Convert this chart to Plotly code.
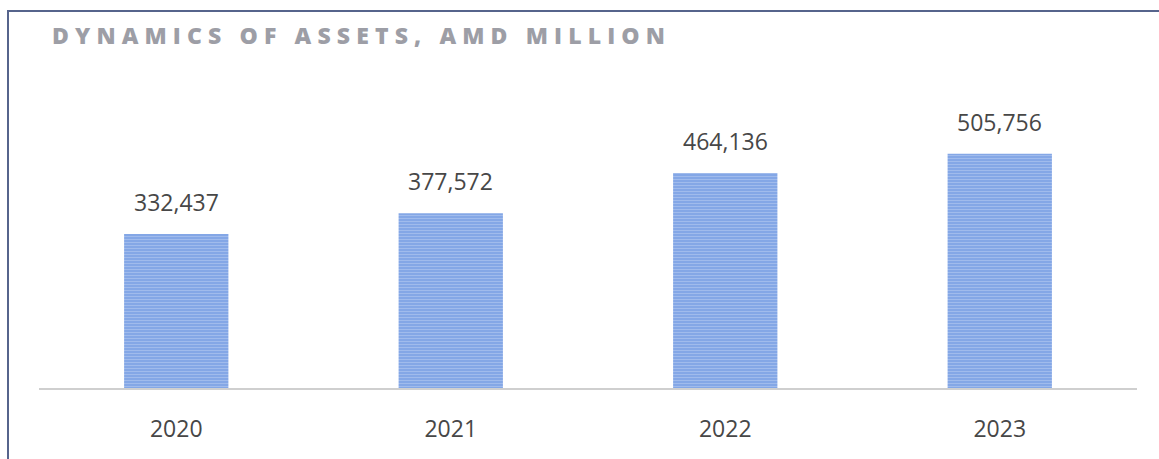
import plotly.graph_objects as go

# Total assets by year, AMD million
years = ["2020", "2021", "2022", "2023"]
assets = [332437, 377572, 464136, 505756]
title_text = "DYNAMICS OF ASSETS, AMD MILLION"

W, H = 1159, 459
ML, MR, MT, MB = 39, 22, 100, 71
plot_w = W - ML - MR
plot_h = H - MT - MB


def spaced(s, gap="\u2009\u200a"):
    # widen tracking by inserting thin spaces between characters
    return gap.join(s)


fig = go.Figure()
fig.add_trace(go.Bar(
    x=years,
    y=assets,
    marker=dict(
        color="#84a7e6",
        line=dict(width=0),
        pattern=dict(shape="-", size=3, solidity=0.35, fgcolor="#bccff2"),
    ),
    hoverinfo="skip",
))

# value labels above each bar (category index positions)
for i, v in enumerate(assets):
    fig.add_annotation(
        x=i, y=v, text=f"{v:,}", showarrow=False,
        yanchor="middle", yshift=32,
        font=dict(family="Open Sans", size=23, color="#474747"),
    )

# frame lines on the left and top edges
def px_x(px):
    return (px - ML) / plot_w


def px_y(py):
    return (H - MB - py) / plot_h


frame = "#56648c"
fig.add_shape(type="line", xref="paper", yref="paper",
              x0=px_x(8), x1=px_x(8), y0=px_y(10), y1=px_y(H + 5),
              line=dict(color=frame, width=2))
fig.add_shape(type="line", xref="paper", yref="paper",
              x0=px_x(7), x1=px_x(W + 5), y0=px_y(11), y1=px_y(11),
              line=dict(color=frame, width=2))

fig.update_layout(
    width=W, height=H,
    margin=dict(l=ML, r=MR, t=MT, b=MB),
    paper_bgcolor="white", plot_bgcolor="white",
    bargap=0.62,
    showlegend=False,
    title=dict(
        text=spaced(title_text),
        x=52 / W, xanchor="left", xref="container",
        y=1 - 36 / H, yanchor="middle", yref="container",
        font=dict(family="Open Sans", size=23, color="#9d9ea6", weight=800),
    ),
    xaxis=dict(
        type="category",
        showgrid=False, zeroline=False, ticks="",
        showline=True, linecolor="#cfcfcf", linewidth=1.5,
        tickfont=dict(family="Open Sans", size=23, color="#474747"),
        ticklabelstandoff=20,
    ),
    yaxis=dict(
        range=[0, plot_h * 2160], visible=False,
        showgrid=False, zeroline=False,
    ),
)

fig.write_html("out.html")
